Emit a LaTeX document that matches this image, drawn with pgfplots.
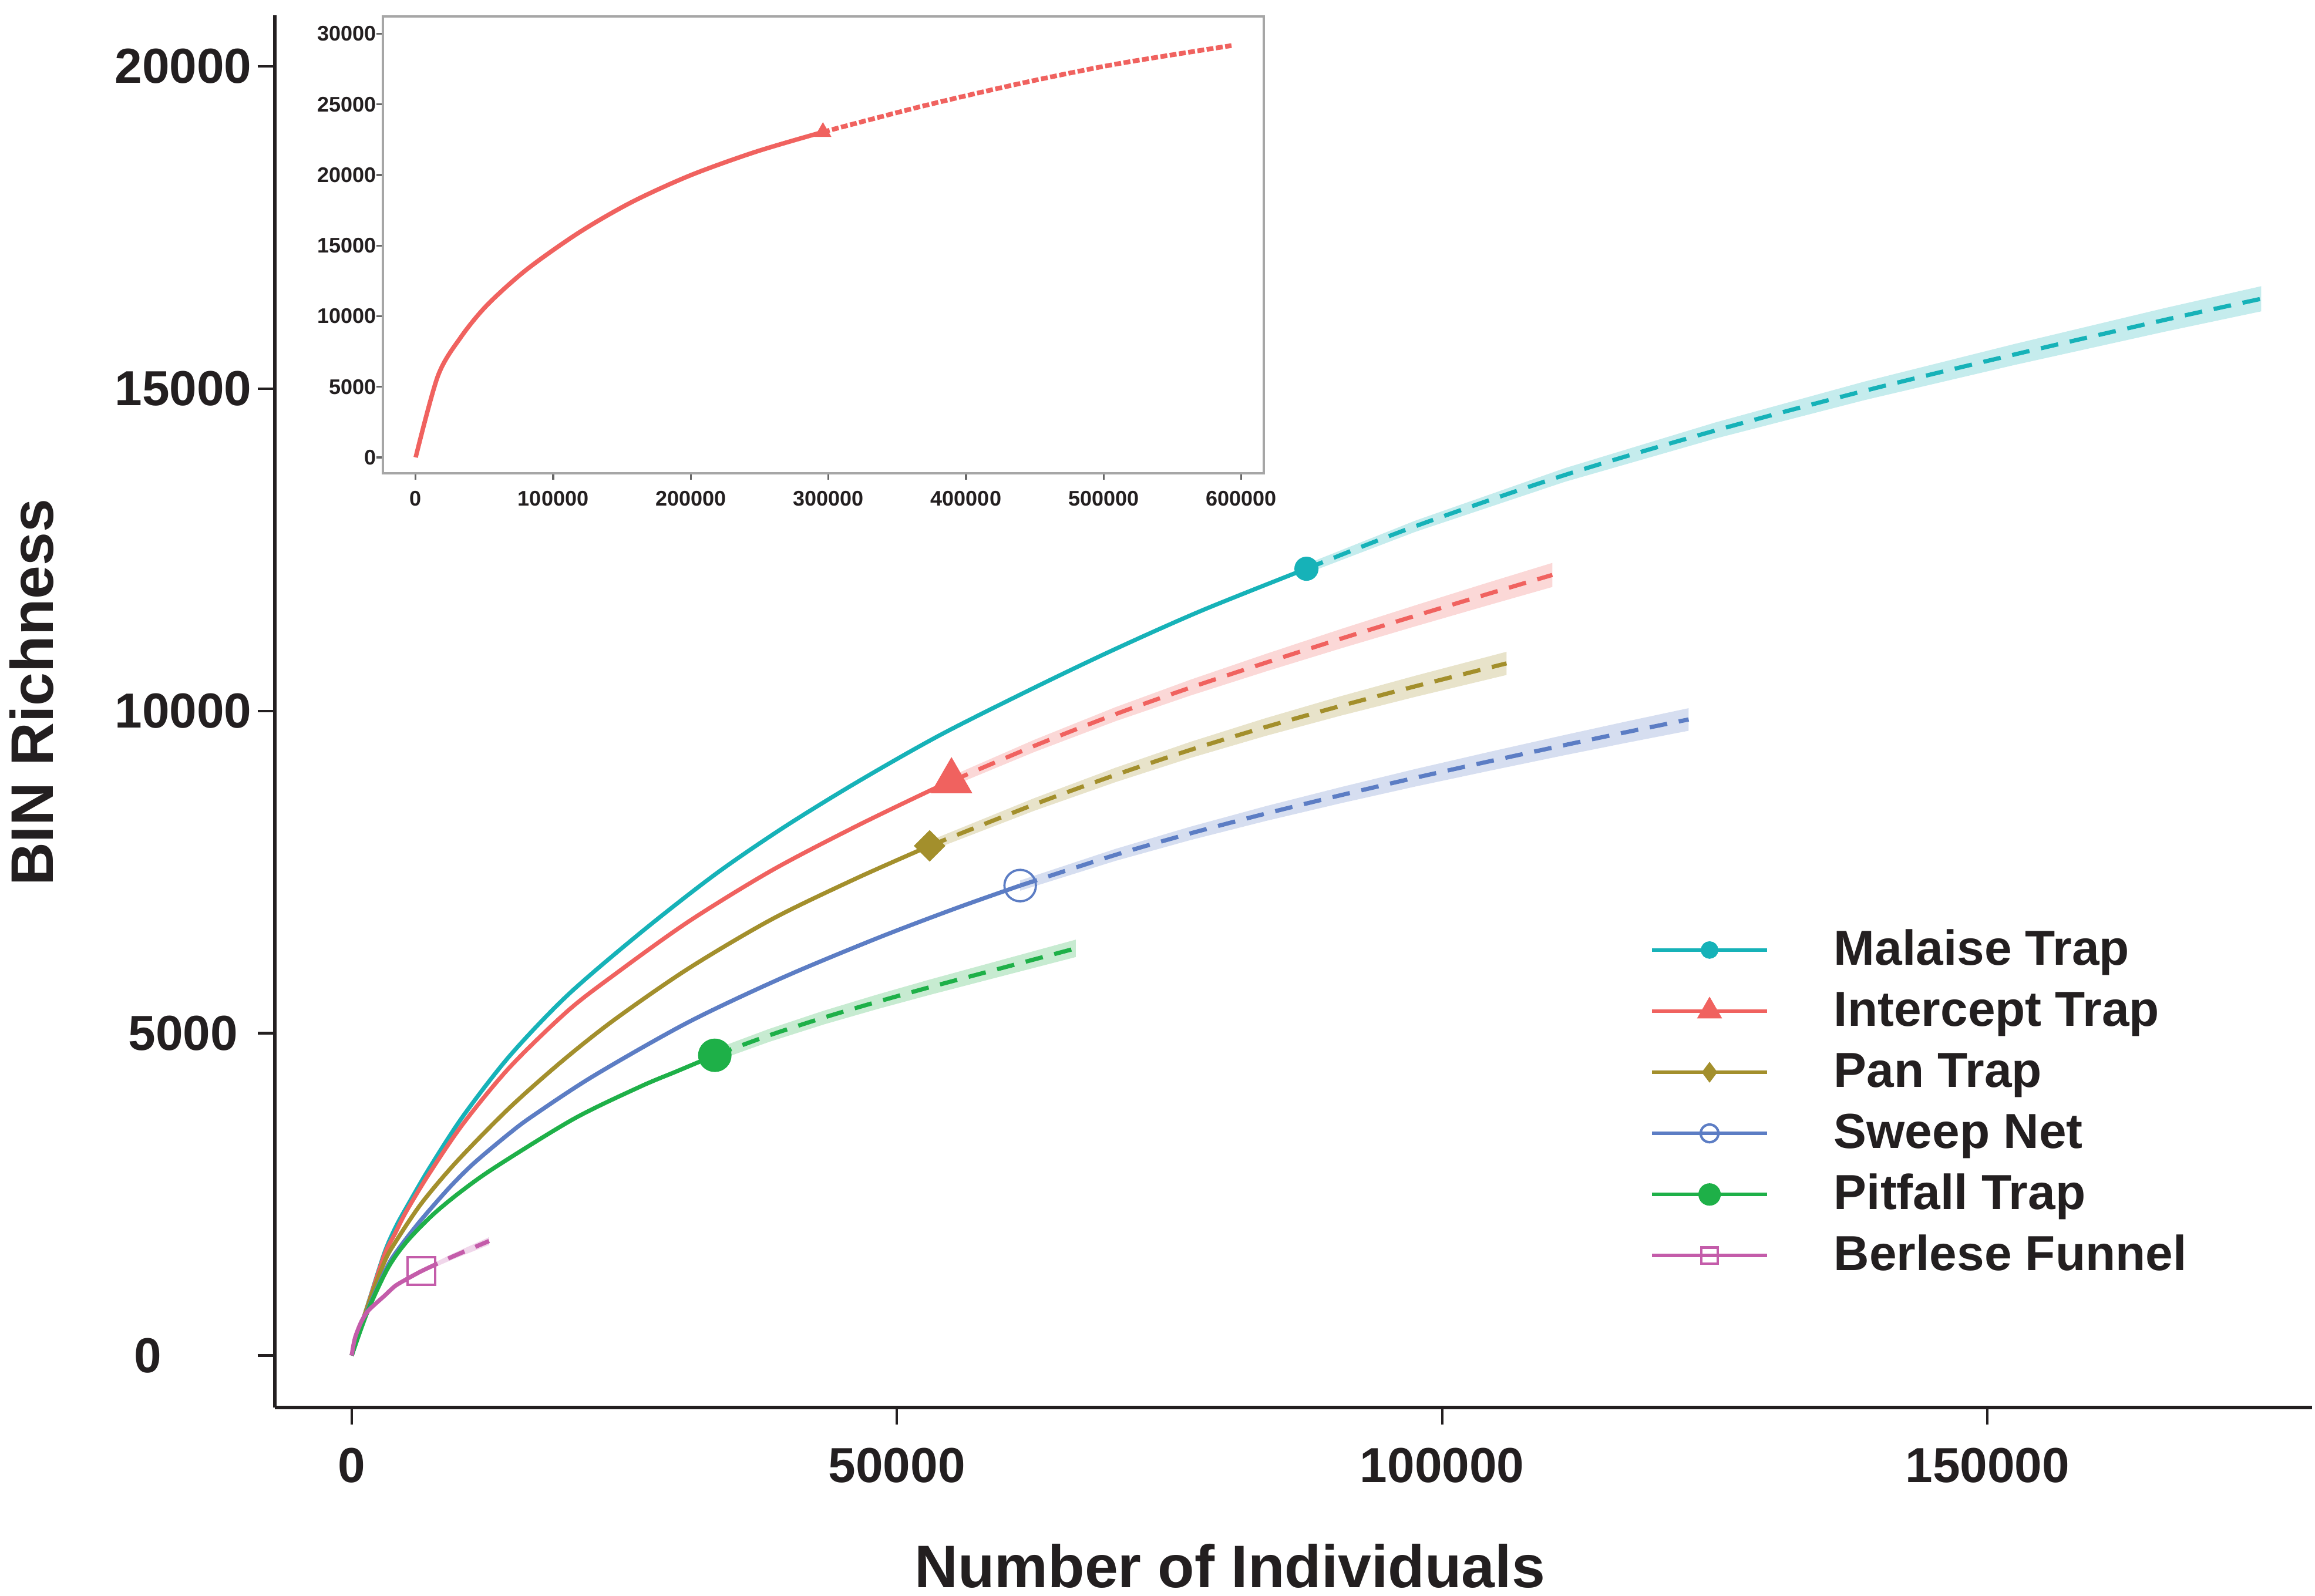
\documentclass[border=0pt]{standalone}
\usepackage{pgfplots}
\pgfplotsset{compat=1.18}
\usepackage{fontspec}
\setmainfont{Liberation Sans}
\definecolor{cMal}{RGB}{22,178,184}
\definecolor{cInt}{RGB}{240,98,95}
\definecolor{cPan}{RGB}{163,143,44}
\definecolor{cSwe}{RGB}{92,125,196}
\definecolor{cPit}{RGB}{30,176,72}
\definecolor{cBer}{RGB}{196,92,170}
\definecolor{txt}{RGB}{35,31,32}
\pgfplotsset{
  obs/.style={line width=0.85pt, smooth, tension=0.5, forget plot},
  ext/.style={line width=0.85pt, smooth, tension=0.5, dash pattern=on 3.6pt off 2.4pt, forget plot},
  band/.style={fill=#1, fill opacity=0.25, draw=none, forget plot},
}
\begin{document}
\begin{tikzpicture}
\begin{axis}[
  name=main, at={(0pt,0pt)}, anchor=south west,
  scale only axis, width=413.97pt, height=282.9pt,
  xmin=-7054, xmax=179770, ymin=-806, ymax=20790,
  axis x line*=bottom, axis y line*=left,
  axis line style={line width=0.8pt, color=txt, -},
  tick align=outside, major tick length=3.5pt,
  tick style={line width=0.5pt, color=txt},
  scaled ticks=false,
  /pgf/number format/assume math mode=true,
  xtick={0,50000,100000,150000}, xticklabels={0,50000,100000,150000},
  ytick={0,5000,10000,15000,20000},
  yticklabels={{\makebox[0pt][r]{0\hspace{4.42pt}}},5000,10000,15000,20000},
  tick label style={font=\fontsize{10}{12}\selectfont\bfseries, inner sep=0pt, text=txt},
  xticklabel shift=4.5pt, yticklabel shift=4.5pt,
  xticklabel style={anchor=north},
  yticklabel style={anchor=center, xshift=-10.6pt},
  xlabel={Number of Individuals},
  xlabel style={at={(axis description cs:0.4688,-0.1141)}, anchor=center, font=\fontsize{12.2}{14}\selectfont\bfseries, text=txt},
  ylabel={BIN Richness},
  ylabel style={at={(axis description cs:-0.1192,0.5136)}, anchor=center, font=\fontsize{12.2}{14}\selectfont\bfseries, text=txt},
  legend style={at={(axis description cs:0.6751,0.3445)}, anchor=north west, draw=none, fill=none,
    inner sep=0pt, outer sep=0pt, font=\fontsize{10}{12}\selectfont\bfseries, text=txt,
    row sep=3.42pt, nodes={inner sep=0pt},
    /tikz/every odd column/.append style={column sep=13.2pt}},
  legend cell align=left,
  legend image code/.code={\draw[mark repeat=2,mark phase=2,#1] plot coordinates {(0pt,0pt) (11.7pt,0pt) (23.4pt,0pt)};},
]
% legend
\addlegendimage{cMal, line width=0.75pt, solid, mark=*, mark size=1.4pt}
\addlegendentry{\rule[-2.5pt]{0pt}{10pt}Malaise Trap}
\addlegendimage{cInt, line width=0.75pt, solid, mark=triangle*, mark size=2.2pt}
\addlegendentry{\rule[-2.5pt]{0pt}{10pt}Intercept Trap}
\addlegendimage{cPan, line width=0.75pt, solid, mark=diamond*, mark size=1.5pt}
\addlegendentry{\rule[-2.5pt]{0pt}{10pt}Pan Trap}
\addlegendimage{cSwe, line width=0.75pt, solid, mark=o, mark size=1.8pt, mark options={line width=0.5pt}}
\addlegendentry{\rule[-2.5pt]{0pt}{10pt}Sweep Net}
\addlegendimage{cPit, line width=0.75pt, solid, mark=*, mark size=1.9pt}
\addlegendentry{\rule[-2.5pt]{0pt}{10pt}Pitfall Trap}
\addlegendimage{cBer, line width=0.75pt, solid, mark=square, mark size=1.65pt, mark options={line width=0.5pt}}
\addlegendentry{\rule[-2.5pt]{0pt}{10pt}Berlese Funnel}
% bands (extrapolation confidence intervals)
\addplot[band=cMal] coordinates {
(87550,12278) (97530,12951) (111260,13766) (125000,14472) (138730,15109) (152460,15691) (166190,16246) (175100,16588)
(175100,16198) (166190,15880) (152460,15365) (138730,14821) (125000,14222) (111260,13554) (97530,12777) (87550,12132)};
\addplot[band=cInt] coordinates {
(55000,8990) (62600,9552) (70000,10055) (76900,10483) (83800,10882) (90700,11269) (97500,11636) (104000,11980) (110100,12296)
(110100,11922) (104000,11628) (97500,11310) (90700,10969) (83800,10610) (76900,10237) (70000,9837) (62600,9362) (55000,8830)};
\addplot[band=cPan] coordinates {
(53000,7986) (62600,8647) (70000,9116) (76900,9519) (83800,9887) (90700,10228) (97500,10544) (105900,10917)
(105900,10557) (97500,10216) (90700,9926) (83800,9611) (76900,9269) (70000,8892) (62600,8451) (53000,7826)};
\addplot[band=cSwe] coordinates {
(61300,7370) (70000,7857) (76900,8203) (83800,8521) (90700,8817) (97500,9097) (104400,9367) (111300,9629) (117000,9840) (122600,10042)
(122600,9692) (117000,9508) (111300,9315) (104400,9073) (97500,8825) (90700,8567) (83800,8291) (76900,7995) (70000,7671) (61300,7210)};
\addplot[band=cPit] coordinates {
(33300,4752) (38300,5068) (43350,5352) (48100,5595) (52960,5830) (59000,6109) (66400,6451)
(66400,6181) (59000,5857) (52960,5592) (48100,5369) (43350,5138) (38300,4866) (33300,4562)};
\addplot[band=cBer] coordinates {
(6400,1340) (9200,1575) (12600,1836) (12600,1716) (9200,1485) (6400,1280)};
% solid (observed) curves
\addplot[cMal, obs] coordinates {
(0,0) (1500,800) (3000,1590) (4000,1980) (5000,2290) (7100,2900) (10200,3710) (14500,4650) (19800,5590) (26500,6560) (33300,7460) (39500,8180) (46200,8880) (53900,9620) (62600,10360) (70000,10958) (78000,11560) (87550,12205)};
\addplot[cInt, obs] coordinates {
(0,0) (1500,790) (3000,1560) (4000,1900) (5000,2233) (7100,2819) (10200,3591) (14500,4473) (19800,5344) (24100,5909) (30850,6727) (38500,7523) (46200,8205) (53000,8761) (55000,8910)};
\addplot[cPan, obs] coordinates {
(0,0) (1500,780) (3000,1450) (4000,1756) (6400,2361) (9700,3021) (14500,3847) (19300,4567) (24100,5210) (30850,6000) (38500,6765) (46200,7396) (53000,7906)};
\addplot[cSwe, obs] coordinates {
(0,0) (1500,720) (3300,1390) (4500,1700) (6400,2110) (9000,2612) (11240,2988) (14500,3451) (16700,3728) (22200,4339) (30850,5169) (39500,5861) (48150,6471) (55360,6935) (61300,7290)};
\addplot[cPit, obs] coordinates {
(0,0) (1500,700) (3300,1349) (5000,1757) (7400,2177) (10000,2541) (13200,2925) (20400,3674) (26500,4174) (29800,4408) (33300,4657)};
\addplot[cBer, obs] coordinates {
(0,0) (300,270) (900,530) (1500,690) (2300,820) (3000,925) (4000,1080) (5200,1200) (6400,1310)};
% dashed (extrapolated) curves
\addplot[cMal, ext] coordinates {
(87550,12205) (97530,12864) (111260,13660) (125000,14347) (138730,14965) (152460,15528) (166190,16063) (175100,16393)};
\addplot[cInt, ext] coordinates {
(55000,8910) (62600,9457) (70000,9946) (76900,10360) (83800,10746) (90700,11119) (97500,11473) (104000,11804) (110100,12109)};
\addplot[cPan, ext] coordinates {
(53000,7906) (62600,8549) (70000,9004) (76900,9394) (83800,9749) (90700,10077) (97500,10380) (105900,10737)};
\addplot[cSwe, ext] coordinates {
(61300,7290) (70000,7764) (76900,8099) (83800,8406) (90700,8692) (97500,8961) (104400,9220) (111300,9472) (117000,9674) (122600,9867)};
\addplot[cPit, ext] coordinates {
(33300,4657) (38300,4967) (43350,5245) (48100,5482) (52960,5711) (59000,5983) (66400,6316)};
\addplot[cBer, ext] coordinates {
(6400,1310) (9200,1530) (12600,1776)};
% markers (observed sample size)
\addplot[cMal, only marks, mark=*, mark size=2.25pt, forget plot] coordinates {(87550,12205)};
\addplot[cInt, only marks, mark=triangle*, mark size=4.5pt, forget plot] coordinates {(55000,8910)};
\addplot[cPan, only marks, mark=square*, mark size=2.07pt, mark options={rotate=45}, forget plot] coordinates {(53000,7906)};
\addplot[cSwe, only marks, mark=o, mark size=3.2pt, mark options={line width=0.45pt}, forget plot] coordinates {(61300,7290)};
\addplot[cPit, only marks, mark=*, mark size=3.2pt, forget plot] coordinates {(33300,4657)};
\addplot[cBer, only marks, mark=square, mark size=2.8pt, mark options={line width=0.45pt}, forget plot] coordinates {(6400,1310)};
\end{axis}
\begin{axis}[
  name=inset, at={(22.0pt,189.8pt)}, anchor=south west,
  scale only axis, width=179.0pt, height=92.9pt,
  xmin=-23720, xmax=616550, ymin=-1139, ymax=31233,
  axis line style={black!35, line width=0.5pt},
  tick align=outside, major tick length=1.3pt,
  xtick pos=left, ytick pos=left,
  tick style={black!60, line width=0.4pt},
  scaled ticks=false,
  xtick={0,100000,200000,300000,400000,500000,600000},
  xticklabels={0,100000,200000,300000,400000,500000,600000},
  ytick={0,5000,10000,15000,20000,25000,30000},
  yticklabels={0,5000,10000,15000,20000,25000,30000},
  tick label style={font=\fontsize{4.3}{5}\selectfont\bfseries, inner sep=0.5pt, text=txt},
  xticklabel shift=1.6pt, yticklabel shift=-0.6pt,
]
\addplot[cInt, line width=0.9pt, smooth, tension=0.5] coordinates {
(0,0) (16200,5776) (32890,8520) (51950,10788) (80550,13294) (118680,15920) (156820,18067) (199710,19976) (247380,21647) (296000,23040)};
\addplot[cInt, line width=0.95pt, smooth, tension=0.5, dash pattern=on 1.4pt off 0.5pt] coordinates {
(296000,23040) (366540,24830) (438040,26450) (509530,27860) (592950,29160)};
\addplot[cInt, only marks, mark=triangle*, mark size=1.6pt] coordinates {(296000,23040)};
\end{axis}
\pgfresetboundingbox
\useasboundingbox (-55.83pt,-38.31pt) rectangle (414.57pt,286.02pt);
\end{tikzpicture}
\end{document}
